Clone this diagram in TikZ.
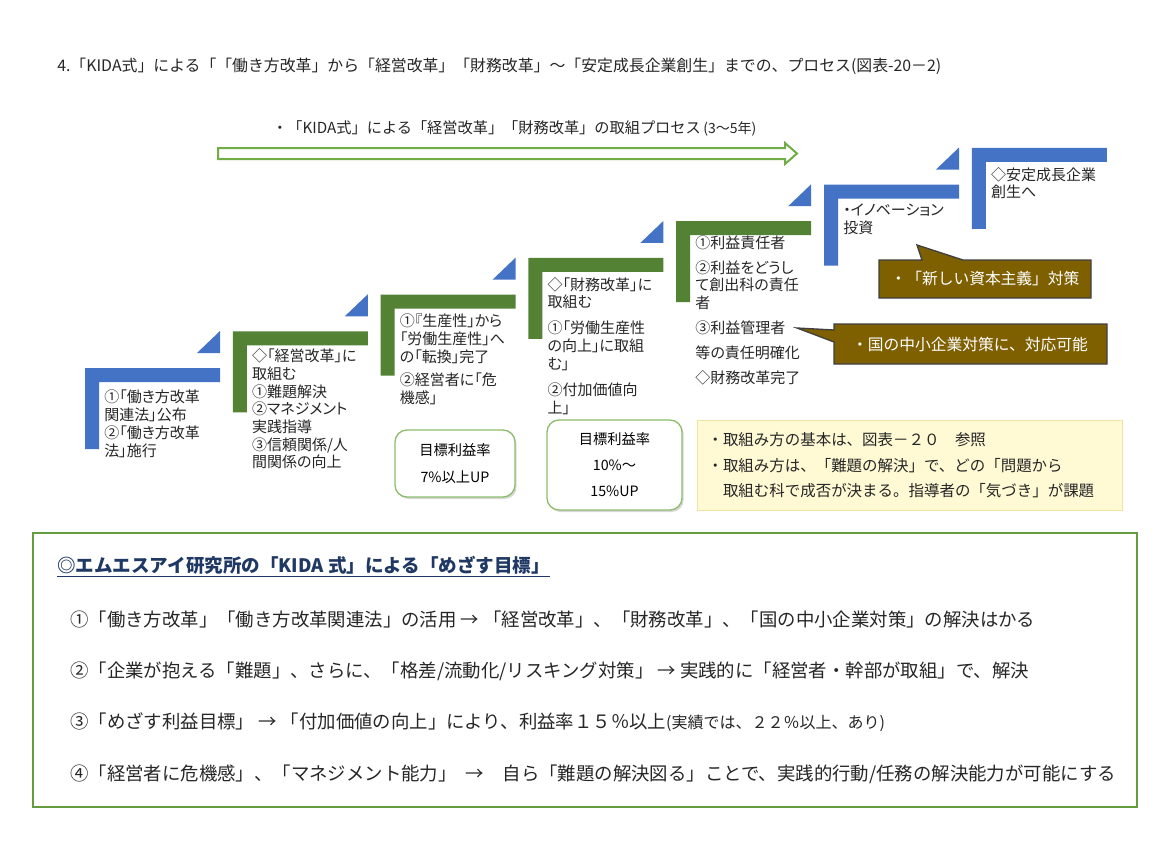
\documentclass[tikz,border=0pt]{standalone}
\usepackage{fontspec}
\setmainfont{Noto Sans CJK JP}
\newfontfamily\propfont[RawFeature=+palt]{Noto Sans CJK JP}
\usetikzlibrary{positioning}
\usetikzlibrary{shadows}
\definecolor{stepblue}{HTML}{4472C4}
\definecolor{stepgreen}{HTML}{548235}
\definecolor{calloutbrown}{HTML}{7F6000}
\definecolor{framegreen}{HTML}{70AD47}
\definecolor{notefill}{HTML}{FFF9D4}
\definecolor{noteline}{HTML}{F3E3A0}
\definecolor{headnavy}{HTML}{1F3864}
\definecolor{inkgray}{HTML}{262626}

\begin{document}
\begin{tikzpicture}[x=0.75pt,y=-0.75pt,inner sep=0pt,
    step text/.style={anchor=north west,align=left,text=inkgray,font=\propfont\fontsize{11.25}{13.3}\selectfont},
    goal box/.style={draw=framegreen!80,line width=1pt,fill=white,rounded corners=9pt,align=center,
      font=\fontsize{10.7}{13}\selectfont,drop shadow={shadow xshift=1.2pt,shadow yshift=-1.5pt,opacity=0.3}},
    callout/.style={fill=calloutbrown,draw=black!75,line width=1pt},
    callout text/.style={text=white,font=\fontsize{11.8}{14}\selectfont},
    goal line/.style={anchor=west,text=inkgray,font=\fontsize{13.8}{16}\selectfont}]

  \fill[white] (0,0) rectangle (1170,860);
  \useasboundingbox (0,0) rectangle (1170,860);

  \node[anchor=west,text=inkgray,font=\fontsize{11.9}{14}\selectfont] (header) at (57,66)
    {4.「KIDA式」による「「働き方改革」から「経営改革」「財務改革」～「安定成長企業創生」までの、プロセス(図表-20－2)};

  \node[anchor=west,text=inkgray,font=\fontsize{11.4}{14}\selectfont] (title) at (272,128)
    {・「KIDA式」による「経営改革」「財務改革」の取組プロセス\,{\fontsize{10.5}{11}\selectfont(3～5年)}};
  \draw[framegreen,line width=1.5pt,fill=white] (218,148) -- (785,148) -- (785,143) -- (797,153.5)
    -- (785,164) -- (785,159) -- (218,159) -- cycle;

  \foreach \i/\c in {0/stepblue,1/stepgreen,2/stepgreen,3/stepgreen,4/stepgreen,5/stepblue,6/stepblue}{
    \coordinate (s\i) at (85+147.8*\i,368-36.7*\i);
    \fill[\c] (s\i) -- ++(135,0) -- ++(0,14) -- ++(-121,0) -- ++(0,67) -- ++(-14,0) -- cycle;
  }
  \foreach \i in {0,...,5}
    \fill[stepblue] ([shift={(112,-15)}]s\i) -- ++(23,0) -- ++(0,-22) -- cycle;

  \node[step text] (t1) at ([shift={(19,22)}]s0) {①「働き方改革\\関連法」公布\\②「働き方改革\\法」施行};
  \node[step text] (t2) at ([shift={(19,17)}]s1) {◇「経営改革」に\\取組む\\①難題解決\\②マネジメント\\実践指導\\③信頼関係/人\\間関係の向上};
  \node[step text] (t3) at ([shift={(19,19)}]s2) {①『生産性」から\\「労働生産性」へ\\の「転換」完了\\[4.5pt]②経営者に「危\\機感」};
  \node[step text] (t4) at ([shift={(19,19)}]s3) {◇「財務改革」に\\取組む\\[6.2pt]①「労働生産性\\の向上」に取組\\む」\\[6.2pt]②付加価値向\\上」};
  \node[step text] (t5) at ([shift={(19,14)}]s4) {①利益責任者\\[5.5pt]②利益をどうし\\て創出科の責任\\者\\[5.5pt]③利益管理者\\[5.5pt]等の責任明確化\\[5.5pt]◇財務改革完了};
  \node[step text] (t6) at ([shift={(19,19)}]s5) {・イノベーション\\投資};
  \node[step text] (t7) at ([shift={(19,19)}]s6) {◇安定成長企業\\創生へ};

  \node[goal box,minimum width=90pt,minimum height=50.25pt] (g1) at (455,463.5) {目標利益率\\[7pt]7\%以上UP};
  \node[goal box,minimum width=101.25pt,minimum height=67.5pt] (g2) at (614.5,465) {目標利益率\\[6.5pt]10\%～\\[6.5pt]15\%UP};

  \node[draw=noteline,fill=notefill,line width=0.8pt,anchor=north west,text width=303.75pt,minimum height=67.5pt,
    inner xsep=7.5pt,align=left,text=inkgray,font=\fontsize{11.6}{19.1}\selectfont] (note) at (697,420)
    {・取組み方の基本は、図表－２０　参照\\・取組み方は、「難題の解決」で、どの「問題から\\　取組む科で成否が決まる。指導者の「気づき」が課題};

  \path[callout] (879,260) -- (922,260) -- (917,245) -- (963,260) -- (1091,260) -- (1091,298) -- (879,298) -- cycle;
  \node[callout text] (c1) at (985,279) {・「新しい資本主義」対策};
  \path[callout] (834,324) -- (1107,324) -- (1107,364) -- (834,364) -- (834,342) -- (797,328) -- (834,330) -- cycle;
  \node[callout text] (c2) at (970,344) {・国の中小企業対策に、対応可能};

  \node[draw=framegreen!90!black,line width=1.8pt,minimum width=828pt,minimum height=205.5pt] (goals) at (585,670) {};
  \node[anchor=west,text=headnavy,font=\bfseries\fontsize{13.9}{16}\selectfont] (aim) at (57,567)
    {\underline{◎エムエスアイ研究所の「KIDA 式」による「めざす目標」}};
  \node[goal line] (a1) at (70,619) {①「働き方改革」「働き方改革関連法」の活用\ →\ 「経営改革」、「財務改革」、「国の中小企業対策」の解決はかる};
  \node[goal line] (a2) at (70,671) {②「企業が抱える「難題」、さらに、「格差/流動化/リスキング対策」\ →\ 実践的に「経営者・幹部が取組」で、解決};
  \node[goal line] (a3) at (70,722) {③「めざす利益目標」\ →\ 「付加価値の向上」により、利益率１５％以上{\fontsize{12}{13}\selectfont(実績では、２２％以上、あり)}};
  \node[goal line] (a4) at (70,774) {④「経営者に危機感」、「マネジメント能力」\enspace→\quad 自ら「難題の解決図る」ことで、実践的行動/任務の解決能力が可能にする};

\end{tikzpicture}
\end{document}
